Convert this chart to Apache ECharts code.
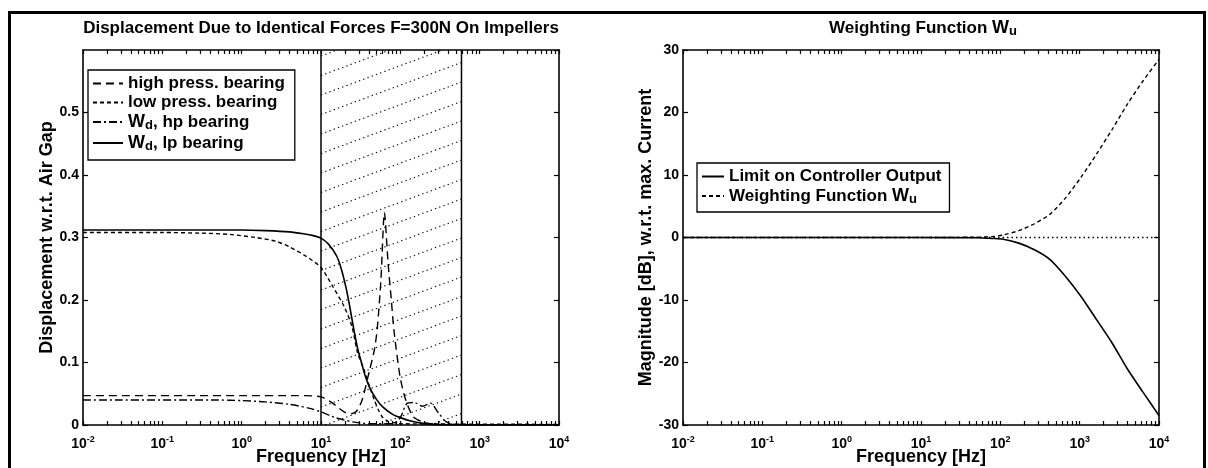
<!DOCTYPE html>
<html><head><meta charset="utf-8">
<script src="https://cdn.jsdelivr.net/npm/echarts@6/dist/echarts.min.js"></script>
<style>html,body{margin:0;padding:0;background:#fff}#c{width:1208px;height:468px}</style>
</head><body><div id="c"></div>
<script>
// ---- axes / ticks ----
const xDecades = [0.01, 0.1, 1, 10, 100, 1000, 10000];
const xExponents = ['-2', '-1', '0', '1', '2', '3', '4'];
const minorMult = [2, 3, 4, 5, 6, 7, 8, 9];
const leftYMax = 0.6;
const rightYRange = [-30, 30];
const hatchBand = [10, 590];   // Hz, hatched frequency band

// ---- left panel: displacement ----
const hpFreq = [0.01, 1, 5, 10, 14, 19.5, 24, 28, 33, 41, 47, 51, 57, 63, 70, 77, 83, 99, 117, 146, 200, 300, 10000];
const hpDisp = [0.047, 0.047, 0.047, 0.045, 0.035, 0.021, 0.018, 0.022, 0.040, 0.088, 0.120, 0.152, 0.233, 0.340, 0.260, 0.200, 0.152, 0.078, 0.040, 0.013, 0.004, 0.001, 0];

const lpFreq = [0.01, 0.1, 0.3, 0.7, 1.5, 2.7, 4, 6.5, 10, 14, 19.5, 24.5, 29, 35, 41, 47, 53, 60, 70, 80, 100, 10000];
const lpDisp = [0.308, 0.308, 0.307, 0.305, 0.300, 0.294, 0.285, 0.270, 0.252, 0.222, 0.190, 0.158, 0.115, 0.088, 0.061, 0.040, 0.024, 0.012, 0.006, 0.004, 0.002, 0.001];

const wdHpFreq = [0.01, 0.5, 1, 2, 4, 7, 10, 15, 25, 40, 80, 100, 120, 150, 190, 240, 300, 380, 500, 10000];
const wdHpDisp = [0.040, 0.040, 0.039, 0.037, 0.033, 0.027, 0.021, 0.012, 0.005, 0.002, 0.002, 0.012, 0.034, 0.036, 0.030, 0.035, 0.020, 0.005, 0.001, 0];

const wdLpFreq = [0.01, 0.1, 1, 2, 4, 6, 8, 10, 12.5, 15.8, 18, 20.9, 23, 26, 29, 32.5, 36, 40.6, 50, 60, 80, 104, 140, 182, 250, 400, 10000];
const wdLpDisp = [0.312, 0.312, 0.312, 0.311, 0.309, 0.306, 0.303, 0.299, 0.289, 0.270, 0.250, 0.217, 0.190, 0.152, 0.122, 0.099, 0.079, 0.061, 0.041, 0.029, 0.017, 0.011, 0.006, 0.003, 0.001, 0, 0];

// ---- right panel: weighting ----
const limFreq = [0.01, 1, 10, 50, 80, 109, 171, 269, 420, 660, 1035, 1624, 2542, 3980, 6250, 10000];
const limDb = [0, 0, 0, -0.05, -0.15, -0.27, -0.9, -1.96, -3.5, -6.2, -9.4, -13.1, -16.8, -21, -24.7, -28.5];
const wuFreq = [0.01, 1, 10, 50, 80, 109, 171, 269, 420, 660, 1035, 1624, 2542, 3980, 6250, 10000];
const wuDb = [0, 0, 0, 0.05, 0.15, 0.4, 1.1, 2.2, 3.7, 6.3, 9.6, 13.3, 17.2, 21.3, 25, 28.5];

const zip = (a, b) => a.map((v, i) => [v, b[i]]);
const FONT = 'Liberation Sans';

const xTickVals = [];
xDecades.forEach((d, i) => {
  xTickVals.push(d);
  if (i < xDecades.length - 1) minorMult.forEach(m => xTickVals.push(d * m));
});

function xAx(gridIndex, pos, labelled) {
  return {
    type: 'log', logBase: 10, min: xDecades[0], max: xDecades[xDecades.length - 1],
    gridIndex, position: pos, splitNumber: 6,
    axisLine: { show: true, onZero: false, lineStyle: { color: '#000', width: 1.6 } },
    axisTick: { show: true, inside: true, length: 4, customValues: xTickVals, lineStyle: { color: '#000', width: 1.2 } },
    splitLine: { show: false }, minorTick: { show: false },
    axisLabel: labelled ? {
      color: '#000', margin: 10,
      formatter: v => '{b|10}{e|' + xExponents[Math.round(Math.log10(v)) + 2] + '}',
      rich: {
        b: { fontFamily: FONT, fontWeight: 'bold', fontSize: 14, lineHeight: 18, color: '#000' },
        e: { fontFamily: FONT, fontWeight: 'bold', fontSize: 9, lineHeight: 9, verticalAlign: 'top', color: '#000' }
      }
    } : { show: false },
    name: labelled ? 'Frequency [Hz]' : '', nameLocation: 'middle', nameGap: 23, nameMoveOverlap: false,
    nameTextStyle: { fontFamily: FONT, fontWeight: 'bold', fontSize: 18, color: '#000' }
  };
}
function yAx(gridIndex, pos, min, max, interval, name, nameGap, fmt) {
  const labelled = pos === 'left';
  return {
    type: 'value', gridIndex, position: pos, min, max, interval,
    axisLine: { show: true, onZero: false, lineStyle: { color: '#000', width: 1.6 } },
    axisTick: { show: true, inside: true, length: 5, lineStyle: { color: '#000', width: 1.2 } },
    splitLine: { show: false },
    axisLabel: labelled ? { color: '#000', fontFamily: FONT, fontWeight: 'bold', fontSize: 14, margin: 4, showMaxLabel: max !== 30 ? false : true, formatter: fmt } : { show: false },
    name: labelled ? name : '', nameLocation: 'middle', nameGap, nameRotate: 90, nameMoveOverlap: false,
    nameTextStyle: { fontFamily: FONT, fontWeight: 'bold', fontSize: 18, color: '#000' }
  };
}

const richW = {
  w: { fontFamily: FONT, fontWeight: 'bold', fontSize: 18, lineHeight: 20, color: '#000' },
  s: { fontFamily: FONT, fontWeight: 'bold', fontSize: 13, lineHeight: 12, verticalAlign: 'bottom', color: '#000' },
  t: { fontFamily: FONT, fontWeight: 'bold', fontSize: 17, lineHeight: 20, color: '#000' }
};

const chart = echarts.init(document.getElementById('c'), null, { renderer: 'canvas' });
const lineBase = (name, data, xi, yi, type, width) => ({
  name, type: 'line', data, xAxisIndex: xi, yAxisIndex: yi, symbol: 'none', smooth: 0.25,
  lineStyle: { color: '#000', width: width || 1.4, type }, itemStyle: { color: '#000' }, z: 3, silent: true
});

chart.setOption({
  animation: false,
  backgroundColor: '#fff',
  title: [
    { text: 'Displacement Due to Identical Forces F=300N On Impellers', left: 316, top: 15, textAlign: 'center',
      textStyle: { fontFamily: FONT, fontSize: 17, fontWeight: 'bold', color: '#000' } },
    { text: '{t|Weighting Function }{w|W}{s|u}', left: 918, top: 13, textAlign: 'center',
      textStyle: { fontFamily: FONT, fontSize: 17, color: '#000', rich: richW } }
  ],
  grid: [
    { left: 83, right: 649, top: 50, bottom: 43, outerBoundsMode: 'none', containLabel: false },
    { left: 683, right: 49, top: 50, bottom: 43, outerBoundsMode: 'none', containLabel: false }
  ],
  xAxis: [xAx(0, 'bottom', true), xAx(0, 'top', false), xAx(1, 'bottom', true), xAx(1, 'top', false)],
  yAxis: [
    yAx(0, 'left', 0, leftYMax, 0.1, 'Displacement w.r.t. Air Gap', 27, v => v === 0 ? '0' : v.toFixed(1)),
    yAx(0, 'right', 0, leftYMax, 0.1, '', 0),
    yAx(1, 'left', rightYRange[0], rightYRange[1], 10, 'Magnitude [dB], w.r.t. max. Current', 28, v => String(v)),
    yAx(1, 'right', rightYRange[0], rightYRange[1], 10, '', 0)
  ],
  legend: [
    { data: ['high press. bearing', 'low press. bearing', 'Wd, hp bearing', 'Wd, lp bearing'],
      orient: 'vertical', left: 88, top: 70, itemGap: 2, itemWidth: 30, itemHeight: 20,
      borderColor: '#000', borderWidth: 1.3, backgroundColor: '#fff', padding: [5, 10, 7, 4],
      itemStyle: { opacity: 0 },
      formatter: n => n.startsWith('Wd') ? '{w|W}{s|d}{t|' + n.slice(2) + '}' : '{t|' + n + '}',
      textStyle: { rich: richW } },
    { data: ['Limit on Controller Output', 'Weighting Function Wu'],
      orient: 'vertical', left: 697, top: 163, itemGap: 2, itemWidth: 22, itemHeight: 20,
      borderColor: '#000', borderWidth: 1.3, backgroundColor: '#fff', padding: [5, 8, 6, 4],
      itemStyle: { opacity: 0 },
      formatter: n => n.endsWith('Wu') ? '{t|Weighting Function }{w|W}{s|u}' : '{t|' + n + '}',
      textStyle: { rich: richW } }
  ],
  graphic: [
    { type: 'rect', shape: { x: 9.5, y: 12.5, width: 1195, height: 480 }, style: { fill: 'none', stroke: '#000', lineWidth: 3 }, silent: true, z: 100 }
  ],
  series: [
    {
      type: 'custom', xAxisIndex: 0, yAxisIndex: 0, silent: true, z: 1,
      data: [[hatchBand[0], leftYMax / 2]],
      renderItem: (params, api) => {
        const p0 = api.coord([hatchBand[0], leftYMax]);
        const p1 = api.coord([hatchBand[1], 0]);
        const x0 = p0[0], y0 = p0[1], x1 = p1[0], y1 = p1[1];
        const slope = 0.37, sp = 19.5;
        const children = [
          { type: 'line', shape: { x1: x0, y1: y0, x2: x0, y2: y1 }, style: { stroke: '#000', lineWidth: 1.5 } },
          { type: 'line', shape: { x1: x1, y1: y0, x2: x1, y2: y1 }, style: { stroke: '#000', lineWidth: 1.5 } }
        ];
        for (let c = y0 + 6; c < y1 + slope * (x1 - x0); c += sp) {
          let xa = x0, ya = c;
          if (ya > y1) { xa = x0 + (ya - y1) / slope; ya = y1; }
          let xb = x1, yb = c - slope * (x1 - x0);
          if (yb < y0) { xb = x0 + (c - y0) / slope; yb = y0; }
          if (xa < xb) children.push({ type: 'line', shape: { x1: xa, y1: ya, x2: xb, y2: yb },
            style: { stroke: '#000', lineWidth: 1.1, lineDash: [1.3, 3.2] } });
        }
        return { type: 'group', children };
      }
    },
    lineBase('high press. bearing', zip(hpFreq, hpDisp), 0, 0, [8, 5]),
    lineBase('low press. bearing', zip(lpFreq, lpDisp), 0, 0, [4, 3]),
    lineBase('Wd, hp bearing', zip(wdHpFreq, wdHpDisp), 0, 0, [8, 3, 2, 3]),
    lineBase('Wd, lp bearing', zip(wdLpFreq, wdLpDisp), 0, 0, 'solid', 1.6),
    lineBase('Limit on Controller Output', zip(limFreq, limDb), 2, 2, 'solid', 1.6),
    Object.assign(lineBase('Weighting Function Wu', zip(wuFreq, wuDb), 2, 2, [4, 3]), {
      markLine: { silent: true, symbol: 'none', label: { show: false },
        lineStyle: { color: '#000', width: 1.3, type: [1.5, 3] }, data: [{ yAxis: 0 }] }
    })
  ]
});
</script>
</body></html>
